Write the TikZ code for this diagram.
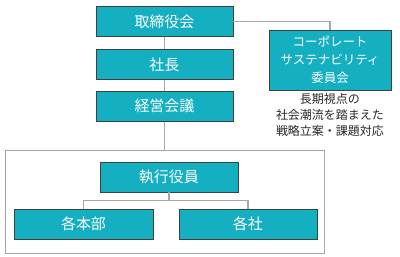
\documentclass[tikz,border=0pt]{standalone}
\usepackage{fontspec}
\setmainfont{Noto Sans CJK JP}
\usetikzlibrary{positioning}
\definecolor{orgfill}{HTML}{15AFC2}
\definecolor{orgline}{HTML}{404040}
\definecolor{linkgray}{HTML}{A6A6A6}

\begin{document}
\begin{tikzpicture}[
  x=1pt, y=1pt,
  node distance=12pt and 20pt,
  org/.style={rectangle, draw=orgline, fill=orgfill, text=white, line width=0.9pt,
              minimum height=30pt, minimum width=137pt, inner sep=0pt,
              font=\fontsize{15}{17}\selectfont},
  cmt/.style={rectangle, draw=orgline, fill=orgfill, text=white, line width=0.9pt,
              minimum height=60pt, minimum width=122pt, inner sep=0pt, align=center,
              font=\fontsize{12.5}{18}\selectfont},
  note/.style={align=center, inner sep=0pt, text=black!85, font=\fontsize{12}{16}\selectfont},
  frame/.style={rectangle, draw=linkgray, line width=0.9pt, minimum width=319pt,
                minimum height=103pt, inner sep=0pt},
  link/.style={draw=linkgray, line width=1.2pt},
]
  \useasboundingbox (0,0) rectangle (400,-257);

  % Group frame (drawn first)
  \node[frame] (grp) at (164.5,-201.5) {};

  % Top chain
  \node[org] (board) at (164.5,-21.5) {取締役会};
  \node[org, below=12pt of board] (pres) {社長};
  \node[org, below=11pt of pres] (mgmt) {経営会議};

  % Committee
  \node[cmt] (cmt) at (330,-60) {コーポレート\\サステナビリティ\\委員会};
  \node[note, below=3pt of cmt] (cmtnote) {長期視点の\\社会潮流を踏まえた\\戦略立案・課題対応};

  % Inside the frame
  \node[org, minimum width=138pt] (exec) at (169,-177) {執行役員};
  \node[org, minimum width=139pt] (hq) at (83.5,-224) {各本部};
  \node[org, minimum width=138pt] (co) at (248,-224) {各社};

  % Connectors
  \draw[link] (board) -- (pres);
  \draw[link] (pres) -- (mgmt);
  \draw[link] (mgmt.south) -- (grp.north);
  \draw[link] (board.east) -| (cmt.north);
  \draw[link] (exec.south) -- ++(0,-8) -| (hq.north);
  \draw[link] (exec.south) -- ++(0,-8) -| (co.north);
\end{tikzpicture}
\end{document}
